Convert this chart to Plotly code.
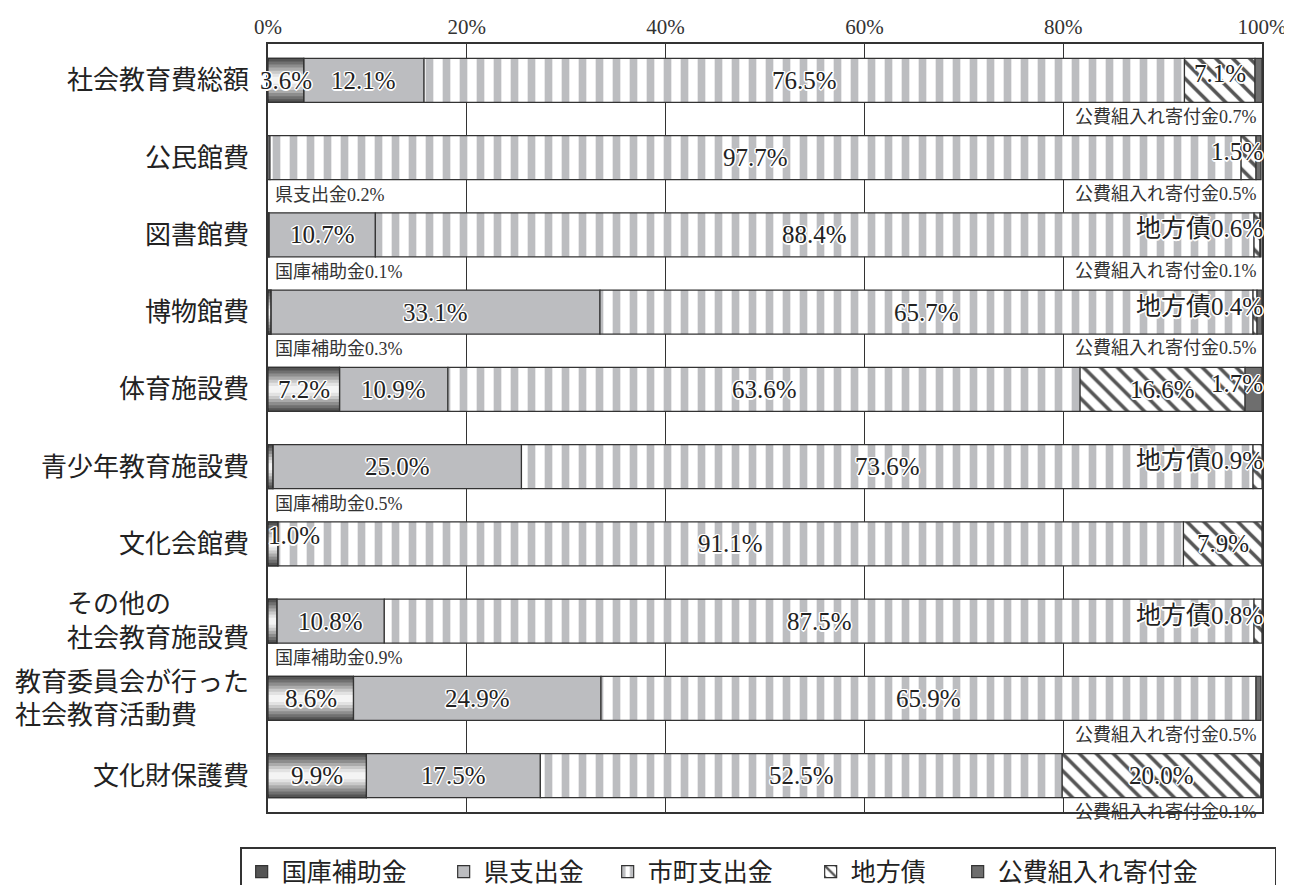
import plotly.graph_objects as go
import numpy as np

# ---------------- data ----------------
categories = ["社会教育費総額", "公民館費", "図書館費", "博物館費", "体育施設費",
              "青少年教育施設費", "文化会館費", "その他の社会教育施設費",
              "教育委員会が行った社会教育活動費", "文化財保護費"]
tick_labels = ["社会教育費総額", "公民館費", "図書館費", "博物館費", "体育施設費",
               "青少年教育施設費", "文化会館費", "その他の\u3000\u3000\u3000<br>社会教育施設費",
               "教育委員会が行った<br>社会教育活動費\u3000\u3000", "文化財保護費"]
series_names = ["国庫補助金", "県支出金", "市町支出金", "地方債", "公費組入れ寄付金"]
kokko = [3.6, 0.0, 0.1, 0.3, 7.2, 0.5, 1.0, 0.9, 8.6, 9.9]
ken = [12.1, 0.2, 10.7, 33.1, 10.9, 25.0, 0.0, 10.8, 24.9, 17.5]
shicho = [76.5, 97.7, 88.4, 65.7, 63.6, 73.6, 91.1, 87.5, 65.9, 52.5]
chihosai = [7.1, 1.5, 0.6, 0.4, 16.6, 0.9, 7.9, 0.8, 0.0, 20.0]
kifu = [0.7, 0.5, 0.1, 0.5, 1.7, 0.0, 0.0, 0.0, 0.5, 0.1]
x_ticks = [0, 20, 40, 60, 80, 100]
x_tick_labels = ["0%", "20%", "40%", "60%", "80%", "100%"]

# label placement (style): (row, series index, mode, with name prefix)
label_specs = [
    (0, 0, "in", False), (0, 1, "in", False), (0, 2, "in", False), (0, 3, "in_up", False), (0, 4, "below_right", True),
    (1, 1, "below_left", True), (1, 2, "in", False), (1, 3, "right_up", False), (1, 4, "below_right", True),
    (2, 0, "below_left", True), (2, 1, "in", False), (2, 2, "in", False), (2, 3, "right_up", True), (2, 4, "below_right", True),
    (3, 0, "below_left", True), (3, 1, "in", False), (3, 2, "in", False), (3, 3, "right_up", True), (3, 4, "below_right", True),
    (4, 0, "in", False), (4, 1, "in", False), (4, 2, "in", False), (4, 3, "in", False), (4, 4, "right_up", False),
    (5, 0, "below_left", True), (5, 1, "in", False), (5, 2, "in", False), (5, 3, "right_up", True),
    (6, 0, "left_up", False), (6, 2, "in", False), (6, 3, "in", False),
    (7, 0, "below_left", True), (7, 1, "in", False), (7, 2, "in", False), (7, 3, "right_up", True),
    (8, 0, "in", False), (8, 1, "in", False), (8, 2, "in", False), (8, 4, "below_right", True),
    (9, 0, "in", False), (9, 1, "in", False), (9, 2, "in", False), (9, 3, "in", False), (9, 4, "below_right", True),
]

# ---------------- build ----------------
values = np.array([kokko, ken, shicho, chihosai, kifu], dtype=float)
bases = np.vstack([np.zeros(len(categories)), np.cumsum(values, axis=0)[:-1]])

def nz(arr):
    return [v if v > 0 else None for v in arr]

FONT = "Liberation Serif, Noto Sans CJK JP, serif"
EDGE = "#333333"
BW = 0.57
HALO = ("1px 1px 0 #fff, -1px -1px 0 #fff, 1px -1px 0 #fff, -1px 1px 0 #fff, "
        "0 1.5px 0 #fff, 0 -1.5px 0 #fff, 1.5px 0 0 #fff, -1.5px 0 0 #fff")
LEG_W = [157, 119, 158, 102, 272]

fig = go.Figure()

# 国庫補助金: metallic gradient imitated with nested bars
grad = [(BW, "#555555"), (0.49, "#707070"), (0.41, "#8d8d8d"), (0.33, "#ababab"),
        (0.25, "#c9c9c9"), (0.17, "#e2e2e2"), (0.09, "#f4f4f4")]
for i, (w, c) in enumerate(grad):
    fig.add_trace(go.Bar(
        y=categories, x=nz(values[0]), base=bases[0], orientation="h", width=w,
        name=series_names[0], showlegend=(i == 0), legendrank=1, legendwidth=LEG_W[0],
        marker=dict(color=c, line=dict(color=EDGE, width=1.2 if i == 0 else 0)),
        hoverinfo="skip"))

fig.add_trace(go.Bar(
    y=categories, x=nz(values[1]), base=bases[1], orientation="h", width=BW,
    name=series_names[1], legendrank=2, legendwidth=LEG_W[1],
    marker=dict(color="#bcbdc0", line=dict(color=EDGE, width=1.2))))
fig.add_trace(go.Bar(
    y=categories, x=nz(values[2]), base=bases[2], orientation="h", width=BW,
    name=series_names[2], legendrank=3, legendwidth=LEG_W[2],
    marker=dict(color="white", line=dict(color=EDGE, width=1.2),
                pattern=dict(shape="|", fgcolor="#bcbdc0", bgcolor="white",
                             size=17, solidity=0.45, fillmode="replace"))))
fig.add_trace(go.Bar(
    y=categories, x=nz(values[3]), base=bases[3], orientation="h", width=BW,
    name=series_names[3], legendrank=4, legendwidth=LEG_W[3],
    marker=dict(color="white", line=dict(color=EDGE, width=1.2),
                pattern=dict(shape="\\", fgcolor="#555555", bgcolor="white",
                             size=12, solidity=0.3, fillmode="replace"))))
fig.add_trace(go.Bar(
    y=categories, x=nz(values[4]), base=bases[4], orientation="h", width=BW,
    name=series_names[4], legendrank=5, legendwidth=LEG_W[4],
    marker=dict(color="#6e6e6e", line=dict(color=EDGE, width=1.2))))
# outline on top of 国庫補助金 gradient
fig.add_trace(go.Bar(
    y=categories, x=nz(values[0]), base=bases[0], orientation="h", width=BW,
    showlegend=False, hoverinfo="skip",
    marker=dict(color="rgba(0,0,0,0)", line=dict(color=EDGE, width=1.2))))

annotations = []
for row, s, mode, pre in label_specs:
    v = values[s][row]
    txt = (series_names[s] if pre else "") + f"{v:.1f}%"
    big = dict(family=FONT, size=25, color="#222222", shadow=HALO)
    small = dict(family=FONT, size=18, color="#333333")
    if mode in ("in", "in_up"):
        annotations.append(dict(x=bases[s][row] + v / 2, y=row, text=txt, showarrow=False,
                                xanchor="center", yanchor="middle", font=big,
                                yshift=7 if mode == "in_up" else 0))
    elif mode == "right_up":
        annotations.append(dict(x=100, y=row, text=txt, showarrow=False, xanchor="right",
                                yanchor="middle", xshift=3, yshift=6, font=big))
    elif mode == "left_up":
        annotations.append(dict(x=0, y=row, text=txt, showarrow=False, xanchor="left",
                                yanchor="middle", xshift=-2, yshift=8, font=big))
    elif mode == "below_left":
        annotations.append(dict(x=0, y=row + 0.48, text=txt, showarrow=False, xanchor="left",
                                yanchor="middle", xshift=5, font=small))
    elif mode == "below_right":
        annotations.append(dict(x=100, y=row + 0.47, text=txt, showarrow=False, xanchor="right",
                                yanchor="middle", xshift=-3, font=small))

fig.update_layout(
    width=1292, height=885,
    barmode="overlay",
    paper_bgcolor="white", plot_bgcolor="white",
    margin=dict(l=260, r=38, t=36, b=81, autoexpand=False),
    font=dict(family=FONT, color="#222222"),
    annotations=annotations,
    legend=dict(orientation="h", x=-0.028, xanchor="left", y=-0.046, yanchor="top",
                bordercolor=EDGE, borderwidth=1.5, bgcolor="white",
                font=dict(family=FONT, size=25, color="#222222"),
                traceorder="normal", tracegroupgap=0),
    xaxis=dict(side="top", range=[0, 100], tickvals=x_ticks, ticktext=x_tick_labels,
               showgrid=True, gridcolor=EDGE, gridwidth=1, zeroline=False,
               showline=True, mirror=True, linecolor=EDGE, linewidth=1.5, ticks="",
               tickfont=dict(family=FONT, size=21, color="#333333")),
    yaxis=dict(type="category", categoryorder="array", categoryarray=categories,
               tickvals=categories, ticktext=tick_labels,
               range=[9.47, -0.47], showgrid=False, zeroline=False,
               showline=True, mirror=True, linecolor=EDGE, linewidth=1.5, ticks="",
               ticklabelstandoff=12,
               tickfont=dict(family="Noto Sans CJK JP", size=26, color="#222222")),
)

fig.write_html("out.html")
